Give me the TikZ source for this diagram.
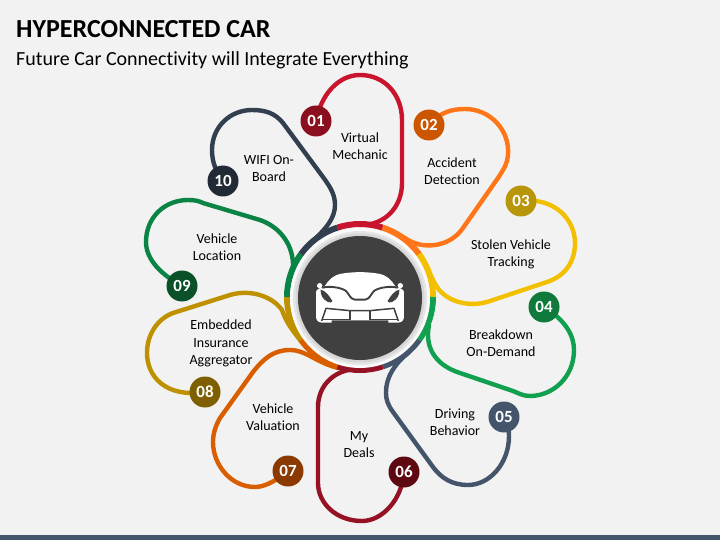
\documentclass[tikz,border=0pt]{standalone}
\usepackage{fontspec}
\setmainfont{Carlito}[Ligatures=NoCommon]
\definecolor{bgc}{HTML}{F2F2F2}
\definecolor{barc}{HTML}{44546A}
\definecolor{hubc}{HTML}{404040}
\definecolor{pa}{HTML}{C8152D}\definecolor{na}{HTML}{8B0F1E}
\definecolor{pb}{HTML}{FF7518}\definecolor{nb}{HTML}{CC5500}
\definecolor{pc}{HTML}{F2C000}\definecolor{nc}{HTML}{B8960A}
\definecolor{pd}{HTML}{10A050}\definecolor{nd}{HTML}{0F7A3C}
\definecolor{pe}{HTML}{44546A}\definecolor{ne}{HTML}{44546A}
\definecolor{pf}{HTML}{941224}\definecolor{nf}{HTML}{5E0812}
\definecolor{pg}{HTML}{D95E00}\definecolor{ng}{HTML}{8A3A00}
\definecolor{ph}{HTML}{BF9000}\definecolor{nh}{HTML}{7F6000}
\definecolor{pi}{HTML}{0A8445}\definecolor{ni}{HTML}{0A5028}
\definecolor{pj}{HTML}{323F4F}\definecolor{nj}{HTML}{222B35}
\tikzset{
  petal/.style={line width=4.4pt,line cap=round,line join=round},
  ringseg/.style={line width=6pt},
  numdot/.style={circle,minimum size=31pt,inner sep=0pt,text=white,font=\fontsize{17}{17}\selectfont\bfseries},
  lab/.style={align=center,text=black,font=\fontsize{14}{17.2}\selectfont,inner sep=0pt},
}
\begin{document}
\begin{tikzpicture}[x=1pt,y=-1pt]
\useasboundingbox (0,0) rectangle (720,540);
\fill[bgc] (0,0) rectangle (720,540);
\fill[barc] (0,535) rectangle (720,540);
\node[anchor=west,inner sep=0pt,font=\fontsize{26}{26}\selectfont\bfseries] (title) at (16,29) {HYPERCONNECTED CAR};
\node[anchor=west,inner sep=0pt,font=\fontsize{20}{20}\selectfont] (sub) at (16,60) {Future Car Connectivity will Integrate Everything};

\coordinate (ctr) at (360,297);
\coordinate (c01) at (316,121);
\coordinate (c02) at (429,125);
\coordinate (c03) at (521,201);
\coordinate (c04) at (544,307);
\coordinate (c05) at (504,417);
\coordinate (c06) at (404,472);
\coordinate (c07) at (288,471);
\coordinate (c08) at (205,392);
\coordinate (c09) at (182,286);
\coordinate (c10) at (223,181);

% petals
\draw[petal,pa] (c01) .. controls (321,95) and (338,75) .. (360,75) .. controls (385,75) and (402,95) .. (402,120) -- (402,183) .. controls (402,205) and (388,222) .. (366,225);
\draw[petal,pb] (c02) .. controls (440,112) and (452,109) .. (465,109) .. controls (490,109) and (510,130) .. (508,155) .. controls (507,165) and (503,170) .. (498,178) -- (463,228) .. controls (450,247) and (425,249) .. (410,241) .. controls (401,236) and (392,230) .. (382,228);
\draw[petal,pc] (c03) .. controls (555,197) and (575,220) .. (575,243) .. controls (575,262) and (565,276) .. (547,282) -- (490,301) .. controls (470,308) and (447,302) .. (437,287) .. controls (431,278) and (428,266) .. (419,254);
\draw[petal,pd] (c04) .. controls (565,320) and (574,335) .. (574,350) .. controls (574,378) and (552,396) .. (530,396) .. controls (523,396) and (518,393) .. (513,391) -- (460,373) .. controls (438,366) and (424,350) .. (429,325);
\draw[petal,pe] (c05) .. controls (508,425) and (509,430) .. (509,436) .. controls (509,463) and (490,485) .. (468,485) .. controls (452,485) and (441,478) .. (433,467) -- (393,412) .. controls (388,405) and (386,400) .. (386,393) .. controls (386,376) and (395,364) .. (408,353);
\draw[petal,pf] (c06) .. controls (402,500) and (382,521) .. (362,521) .. controls (336,521) and (318,503) .. (318,483) -- (318,407) .. controls (318,385) and (335,369) .. (358,369);
\draw[petal,pg] (c07) .. controls (272,484) and (262,487) .. (255,487) .. controls (231,487) and (213,465) .. (213,442) .. controls (213,433) and (216,425) .. (220,418) -- (253,372) .. controls (264,358) and (274,350) .. (290,350) .. controls (306,350) and (315,362) .. (338,368);
\draw[petal,ph] (c08) .. controls (165,398) and (147,376) .. (147,353) .. controls (147,335) and (157,319) .. (173,313) -- (230,295) .. controls (250,289) and (272,296) .. (282,310) .. controls (286,322) and (292,330) .. (301,341);
\draw[petal,pi] (c09) .. controls (162,275) and (146,260) .. (146,242) .. controls (146,217) and (165,200) .. (188,200) .. controls (195,200) and (199,201) .. (203,203) -- (260,220) .. controls (280,227) and (294,245) .. (293,268);
\draw[petal,pj] (c10) .. controls (216,172) and (212,162) .. (212,150) .. controls (212,127) and (230,110) .. (252,110) .. controls (265,110) and (275,113) .. (283,123) -- (323,177) .. controls (331,188) and (335,195) .. (335,205) .. controls (335,218) and (326,228) .. (317,237);

% ring
\draw[ringseg,pa] (ctr) ++(-108:73) arc[start angle=-108,end angle=-72,radius=73];
\draw[ringseg,pb] (ctr) ++(-72:73) arc[start angle=-72,end angle=-36,radius=73];
\draw[ringseg,pc] (ctr) ++(-36:73) arc[start angle=-36,end angle=0,radius=73];
\draw[ringseg,pd] (ctr) ++(0:73) arc[start angle=0,end angle=36,radius=73];
\draw[ringseg,pe] (ctr) ++(36:73) arc[start angle=36,end angle=72,radius=73];
\draw[ringseg,pf] (ctr) ++(72:73) arc[start angle=72,end angle=108,radius=73];
\draw[ringseg,pg] (ctr) ++(108:73) arc[start angle=108,end angle=144,radius=73];
\draw[ringseg,ph] (ctr) ++(144:73) arc[start angle=144,end angle=180,radius=73];
\draw[ringseg,pi] (ctr) ++(180:73) arc[start angle=180,end angle=216,radius=73];
\draw[ringseg,pj] (ctr) ++(216:73) arc[start angle=216,end angle=252,radius=73];

% hub
\fill[white!60!bgc] (360,298) circle[radius=70];
\fill[black!10] (360,298) circle[radius=67];
\fill[black!16] (360,298) circle[radius=64.5];
\node[circle,fill=hubc,minimum size=124pt,inner sep=0pt] (hub) at (360,298) {};

% car (reference zoom coordinates, one third scale)
\begin{scope}[shift={(280,215)},x=0.3333pt,y=-0.3333pt]
  \fill[white] (119,212) circle[radius=8];
  \fill[white] (361,212) circle[radius=8];
  \fill[white] (108,232) .. controls (108,222) and (120,220) .. (134,214)
     .. controls (145,195) and (160,180) .. (185,176) .. controls (220,170) and (260,170) .. (295,176)
     .. controls (320,180) and (335,195) .. (346,214) .. controls (360,220) and (372,222) .. (372,232)
     -- (372,305) .. controls (372,316) and (365,322) .. (355,323) -- (325,323) -- (325,316) -- (155,316) -- (155,323) -- (125,323)
     .. controls (115,322) and (108,316) .. (108,305) -- cycle;
  \draw[hubc,line width=1.9pt,line join=round,line cap=round] (128,218) .. controls (150,212) and (185,218) .. (198,228) .. controls (208,238) and (210,252) .. (225,254) -- (255,254) .. controls (270,252) and (272,238) .. (282,228) .. controls (295,218) and (330,212) .. (352,218);
  \fill[hubc] (122,224) .. controls (135,225) and (150,245) .. (157,258) .. controls (157,264) and (150,264) .. (142,260) .. controls (130,254) and (120,240) .. (122,224) -- cycle;
  \fill[hubc] (358,224) .. controls (345,225) and (330,245) .. (323,258) .. controls (323,264) and (330,264) .. (338,260) .. controls (350,254) and (360,240) .. (358,224) -- cycle;
  \draw[hubc,line width=1.5pt,line join=round] (125,318) -- (138,280) -- (210,287) -- (270,287) -- (342,280) -- (355,318);
  \draw[hubc,line width=1.5pt] (210,287) -- (210,316) (270,287) -- (270,316);
  \draw[hubc,line width=1.5pt] (130,313) -- (210,313) (270,313) -- (350,313);
\end{scope}

% numbered dots
\node[numdot,fill=na] (n01) at (c01) {01};
\node[numdot,fill=nb] (n02) at (c02) {02};
\node[numdot,fill=nc] (n03) at (c03) {03};
\node[numdot,fill=nd] (n04) at (c04) {04};
\node[numdot,fill=ne] (n05) at (c05) {05};
\node[numdot,fill=nf] (n06) at (c06) {06};
\node[numdot,fill=ng] (n07) at (c07) {07};
\node[numdot,fill=nh] (n08) at (c08) {08};
\node[numdot,fill=ni] (n09) at (c09) {09};
\node[numdot,fill=nj] (n10) at (c10) {10};

% labels
\node[lab] (l01) at (360,146) {Virtual\\Mechanic};
\node[lab] (l02) at (452,171) {Accident\\Detection};
\node[lab] (l03) at (511,254) {Stolen Vehicle\\Tracking};
\node[lab] (l04) at (501,343) {Breakdown\\On-Demand};
\node[lab] (l05) at (455,422) {Driving\\Behavior};
\node[lab] (l06) at (359,444.5) {My\\Deals};
\node[lab] (l07) at (273,417) {Vehicle\\Valuation};
\node[lab] (l08) at (221,343.5) {Embedded\\Insurance\\Aggregator};
\node[lab] (l09) at (217,247) {Vehicle\\Location};
\node[lab] (l10) at (269,168.5) {WIFI On-\\Board};
\end{tikzpicture}
\end{document}
